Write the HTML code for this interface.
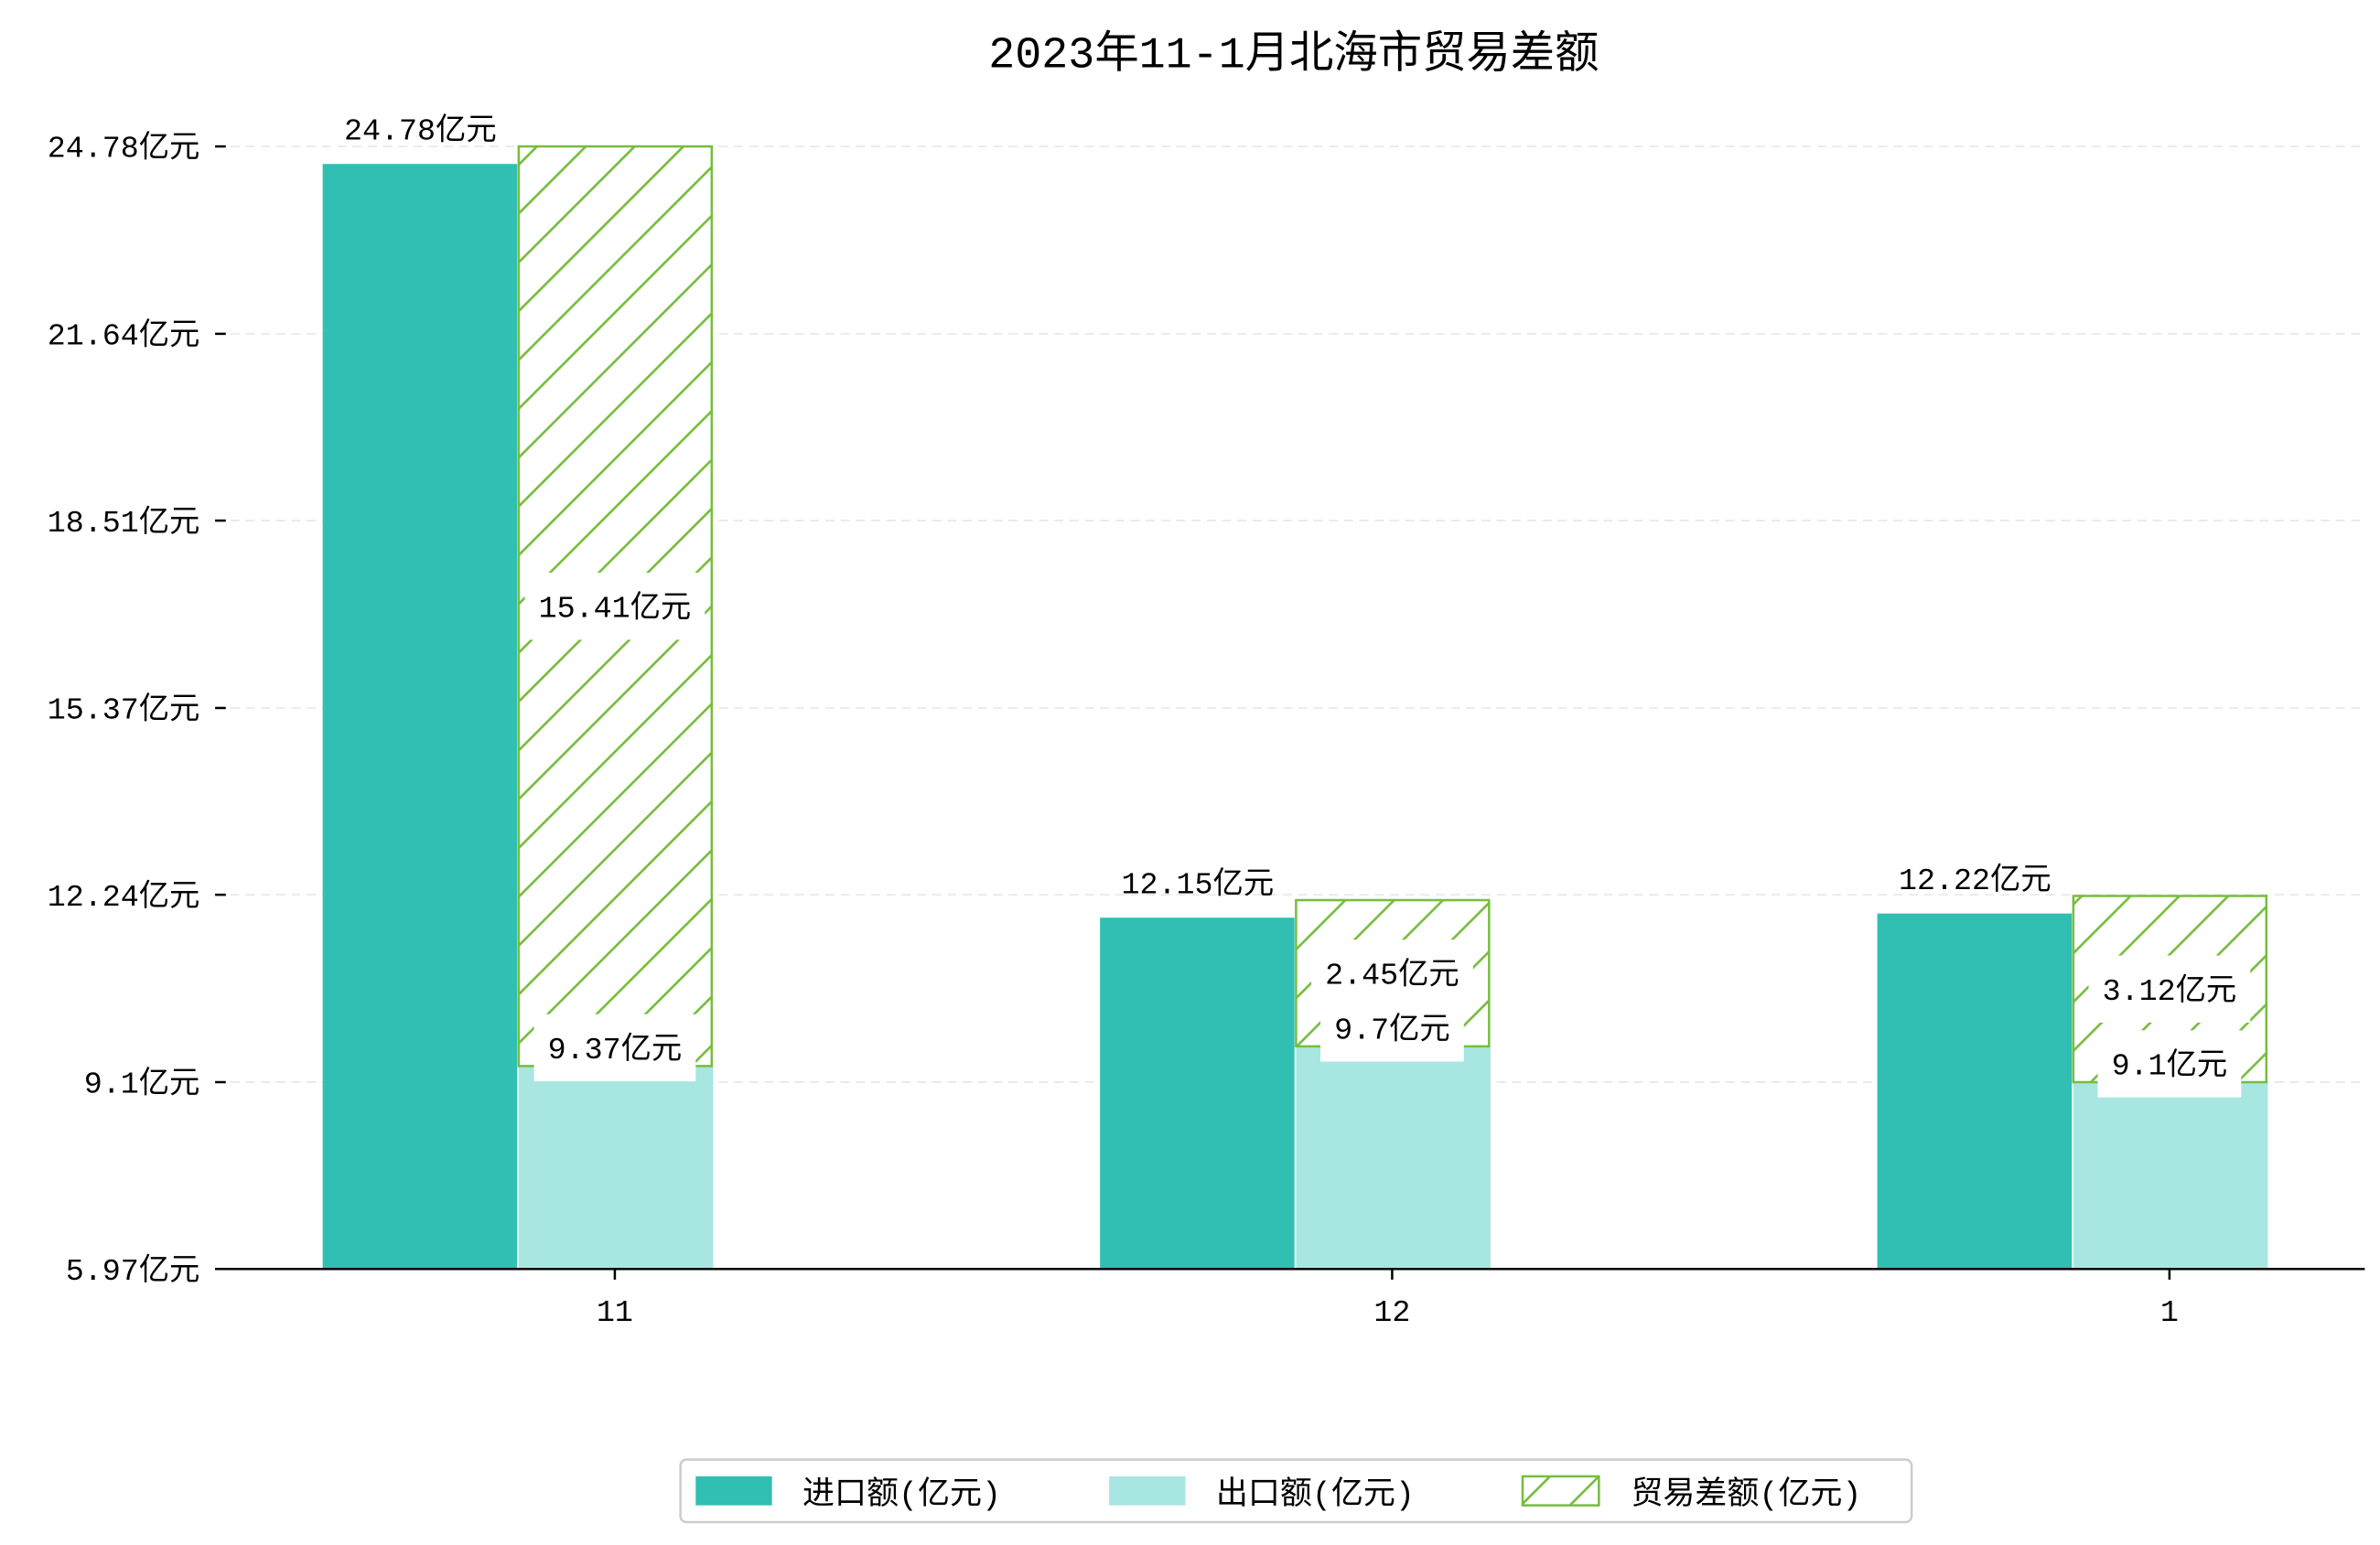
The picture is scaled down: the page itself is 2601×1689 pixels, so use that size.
<!DOCTYPE html>
<html><head><meta charset="utf-8">
<style>
html,body{margin:0;padding:0;background:#fff;}
svg{display:block;}
text{font-family:"Liberation Mono","Noto Sans CJK SC",monospace;fill:#000;}
</style></head>
<body>
<svg id="chart" width="2601" height="1689" viewBox="0 0 1560 1013" preserveAspectRatio="none" xmlns="http://www.w3.org/2000/svg">
<defs>
<pattern id="hatch" patternUnits="userSpaceOnUse" width="32" height="32">
<rect width="32" height="32" fill="#fff"/>
<path d="M-8,8 L8,-8 M0,32 L32,0 M24,40 L40,24" stroke="#76bd3d" stroke-width="1.6"/>
</pattern>
</defs>
<text x="848" y="44" text-anchor="middle" font-size="29" style="font-family:'Liberation Mono','Noto Sans CJK SC',sans-serif">2023年11-1月北海市贸易差额</text>
<g id="grid"></g>
<g id="bars"></g>
<g id="labels"></g>
<line x1="141" y1="832" x2="1550" y2="832" stroke="#000" stroke-width="1.5"/>
<g>
<rect x="446" y="957" width="807" height="41" rx="4" fill="#fff" stroke="#ccc" stroke-width="1.5"/>
<rect x="456" y="968" width="50" height="19" fill="#30bfb2"/>
<text x="526" y="986" font-size="21">进口额(亿元)</text>
<rect x="727" y="968" width="50" height="19" fill="#a8e6e1"/>
<text x="797" y="986" font-size="21">出口额(亿元)</text>
<rect x="998" y="968" width="50" height="19" fill="url(#hatch)" stroke="#76bd3d" stroke-width="1.5"/>
<text x="1069" y="986" font-size="21">贸易差额(亿元)</text>
</g>
</svg>
<script>
const categories = ["11", "12", "1"];
const importVals = [24.78, 12.15, 12.22];
const exportVals = [9.37, 9.7, 9.1];
const tickVals = [5.97, 9.1, 12.24, 15.37, 18.51, 21.64, 24.78];

const NS = "http://www.w3.org/2000/svg";
const yMin = 5.97, yMax = 24.78, yBot = 832, yTop = 96;
function y(v){ return yBot - (v - yMin) / (yMax - yMin) * (yBot - yTop); }
const groupX0 = 403, groupStep = 509.5, bw = 127.5;
function xc(i){ return groupX0 + i * groupStep; }
function mk(tag, attrs, parent){
  const el = document.createElementNS(NS, tag);
  for (const k in attrs) el.setAttribute(k, attrs[k]);
  parent.appendChild(el); return el;
}
const grid = document.getElementById('grid');
const bars = document.getElementById('bars');
const labels = document.getElementById('labels');

tickVals.forEach((t, i) => {
  const yy = y(t);
  if (i > 0) {
    const g = mk('line', {x1:141, x2:1550, y1:yy, y2:yy, stroke:'#e8e8e8', 'stroke-dasharray':'6,4', 'stroke-width':1}, grid);
    
    
  }
  const tk = mk('line', {x1:141, x2:148, y1:yy, y2:yy, stroke:'#000', 'stroke-width':1.5}, grid);
  
  
  const tx = mk('text', {x:131, y:yy + 7, 'text-anchor':'end', 'font-size':20}, grid);
  tx.textContent = t + '亿元';
  
  
});

function label(x, yy, txt, box, name){
  if (box) {
    const w = txt.length * 12 + 34;
    const r = mk('rect', {x:x - w/2, y:yy - 22, width:w, height:44, fill:'#fff'}, labels);
    
    
  }
  const t = mk('text', {x:x, y:yy + 7, 'text-anchor':'middle', 'font-size':20}, labels);
  t.textContent = txt;
  
  
}

categories.forEach((c, i) => {
  const cx = xc(i);
  const iv = importVals[i], ev = exportVals[i], dv = +(iv - ev).toFixed(2);
  const impTop = y(iv) + 11.5;
  const r1 = mk('rect', {x:cx - 191.5, y:impTop, width:bw, height:yBot - impTop, fill:'#30bfb2'}, bars);
  
  
  const r2 = mk('rect', {x:cx - 63, y:y(ev), width:bw, height:yBot - y(ev), fill:'#a8e6e1'}, bars);
  
  
  const r3 = mk('rect', {x:cx - 63, y:y(iv), width:bw - 1, height:y(ev) - y(iv), fill:'url(#hatch)', stroke:'#76bd3d', 'stroke-width':1.5}, bars);
  
  
  const xt = mk('line', {x1:cx, x2:cx, y1:832, y2:839, stroke:'#000', 'stroke-width':1.5}, bars);
  
  
  const xl = mk('text', {x:cx, y:866, 'text-anchor':'middle', 'font-size':20}, bars);
  xl.textContent = c;
  
  

  label(cx - 127.5, impTop - 23, iv + '亿元', false, 'import-value-label');
  label(cx, (y(iv) + y(ev)) / 2, dv + '亿元', true, 'diff-value-label');
  label(cx, y(ev) - 12, ev + '亿元', true, 'export-value-label');
});
</script>
</body></html>
